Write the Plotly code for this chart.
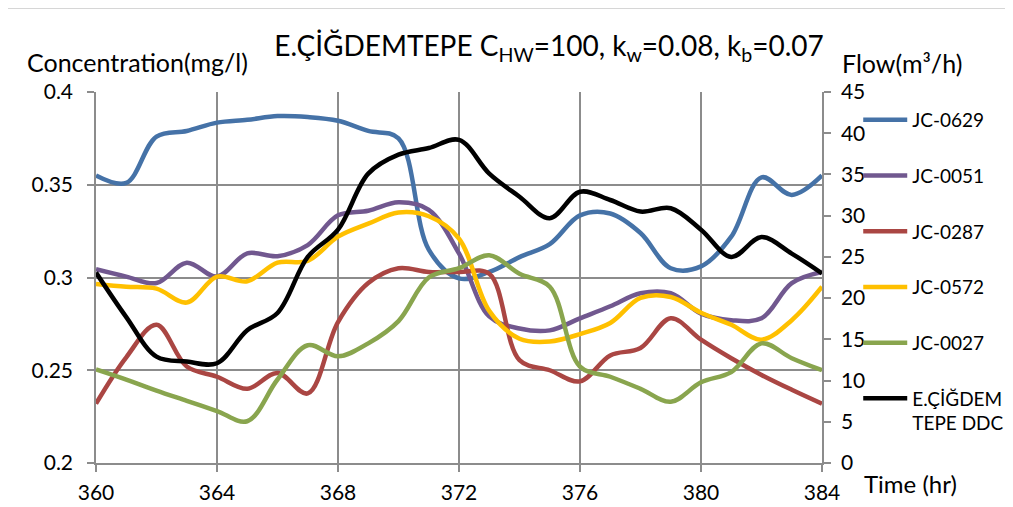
import plotly.graph_objects as go

hours = [360, 361, 362, 363, 364, 365, 366, 367, 368, 369, 370, 371, 372,
         373, 374, 375, 376, 377, 378, 379, 380, 381, 382, 383, 384]

jc_0629 = [0.355, 0.351, 0.376, 0.379, 0.3835, 0.385, 0.387, 0.3865, 0.3845, 0.379, 0.375, 0.315, 0.2995,
           0.303, 0.311, 0.318, 0.3335, 0.3345, 0.324, 0.305, 0.306, 0.322, 0.354, 0.3445, 0.355]
jc_0051 = [0.3045, 0.3005, 0.297, 0.308, 0.3005, 0.313, 0.3115, 0.3175, 0.3335, 0.336, 0.3405, 0.3365, 0.313,
           0.279, 0.2725, 0.2715, 0.278, 0.2845, 0.2915, 0.2915, 0.2805, 0.277, 0.278, 0.297, 0.303]
jc_0287 = [0.232, 0.257, 0.2745, 0.252, 0.2465, 0.240, 0.2485, 0.2375, 0.276, 0.297, 0.305, 0.303, 0.303,
           0.302, 0.2555, 0.250, 0.244, 0.258, 0.262, 0.278, 0.2665, 0.2565, 0.2475, 0.2395, 0.232]
jc_0572 = [0.2965, 0.295, 0.294, 0.2865, 0.3005, 0.298, 0.308, 0.309, 0.322, 0.329, 0.335, 0.333, 0.321,
           0.282, 0.267, 0.2655, 0.2695, 0.2755, 0.289, 0.2895, 0.281, 0.2745, 0.2665, 0.277, 0.295]
jc_0027 = [0.2505, 0.245, 0.239, 0.2335, 0.228, 0.2225, 0.245, 0.2635, 0.2575, 0.2645, 0.2765, 0.300, 0.305,
           0.312, 0.302, 0.295, 0.252, 0.2465, 0.240, 0.233, 0.2435, 0.249, 0.2645, 0.2565, 0.250]
ddc_flow = [23.1, 17.7, 12.9, 12.3, 12.1, 16.1, 18.2, 25.0, 28.3, 35.1, 37.4, 38.2, 39.2,
            35.1, 32.3, 29.7, 32.9, 31.9, 30.5, 30.9, 28.3, 25.0, 27.4, 25.4, 23.0]

conc_ticks = [0.2, 0.25, 0.3, 0.35, 0.4]
conc_tick_text = ["0.2", "0.25", "0.3", "0.35", "0.4"]
time_ticks = [360, 364, 368, 372, 376, 380, 384]
flow_ticks = [0, 5, 10, 15, 20, 25, 30, 35, 40, 45]

FONT = "Lato, 'Liberation Sans', sans-serif"
GRID = "#8c8c8c"

series = [
    ("JC-0629", jc_0629, "#4572A7"),
    ("JC-0051", jc_0051, "#71588F"),
    ("JC-0287", jc_0287, "#AA4643"),
    ("JC-0572", jc_0572, "#FFC000"),
    ("JC-0027", jc_0027, "#89A54E"),
]

fig = go.Figure()
for i, (name, vals, col) in enumerate(series):
    fig.add_trace(go.Scatter(
        x=hours, y=vals, name=name, mode="lines", legendgroup=f"g{i}",
        line=dict(color=col, width=4.5, shape="spline", smoothing=1.0),
        yaxis="y"))
fig.add_trace(go.Scatter(
    x=hours, y=ddc_flow, name="E.ÇİĞDEM<br>TEPE DDC", mode="lines", legendgroup="g9",
    line=dict(color="#000000", width=4.5, shape="spline", smoothing=1.0),
    yaxis="y2"))

fig.update_layout(
    width=1005, height=499,
    margin=dict(l=88, r=191, t=84, b=44),
    paper_bgcolor="white", plot_bgcolor="white",
    font=dict(family=FONT, size=21, color="#000000"),
    showlegend=True,
    legend=dict(xref="container", yref="container", x=0.846, xanchor="left",
                y=0.8136, yanchor="top", maxheight=450,
                font=dict(family=FONT, size=19), tracegroupgap=28, itemwidth=44,
                valign="top", bgcolor="rgba(0,0,0,0)"),
    title=dict(text="E.ÇİĞDEMTEPE C<sub>HW</sub>=100, k<sub>w</sub>=0.08, k<sub>b</sub>=0.07",
               x=0.624, xref="paper", xanchor="center",
               y=0.924, yref="container", yanchor="middle",
               font=dict(family=FONT, size=28)),
    xaxis=dict(range=[360, 384], tickvals=time_ticks, showgrid=True, gridcolor=GRID, gridwidth=1.5,
               showline=True, linecolor=GRID, linewidth=1.5, ticks="outside", ticklen=7,
               tickcolor=GRID, tickwidth=1.5, zeroline=False, tickfont=dict(size=21),
               ticklabelstandoff=3, automargin=False),
    yaxis=dict(range=[0.2, 0.4], tickvals=conc_ticks, ticktext=conc_tick_text, showgrid=True,
               gridcolor=GRID, gridwidth=1.5, showline=True, linecolor=GRID, linewidth=1.5,
               ticks="outside", ticklen=7, tickcolor=GRID, tickwidth=1.5, zeroline=False,
               tickfont=dict(size=21), ticklabelstandoff=10, automargin=False),
    yaxis2=dict(range=[0, 45], tickvals=flow_ticks, overlaying="y", side="right", showgrid=False,
                showline=True, linecolor=GRID, linewidth=1.5, ticks="outside", ticklen=7,
                tickcolor=GRID, tickwidth=1.5, zeroline=False, tickfont=dict(size=21),
                ticklabelstandoff=6, automargin=False),
)

fig.add_annotation(text="Concentration(mg/l)", xref="paper", yref="paper", x=-0.098, y=1.081,
                   xanchor="left", yanchor="middle", showarrow=False, font=dict(size=25))
fig.add_annotation(text="Flow(m³/h)", xref="paper", yref="paper", x=1.025, y=1.079,
                   xanchor="left", yanchor="middle", showarrow=False, font=dict(size=25))
fig.add_annotation(text="Time (hr)", xref="paper", yref="paper", x=1.055, y=-0.056,
                   xanchor="left", yanchor="middle", showarrow=False, font=dict(size=24))

# chart-area border (top and left edges visible in reference)
fig.add_shape(type="line", xref="paper", yref="paper", x0=-0.124, x1=1.27, y0=1.226, y1=1.226,
              line=dict(color="#bfbfbf", width=1))
fig.add_shape(type="line", xref="paper", yref="paper", x0=-0.124, x1=-0.124, y0=-0.12, y1=1.226,
              line=dict(color="#bfbfbf", width=1))

fig.write_html("out.html")
